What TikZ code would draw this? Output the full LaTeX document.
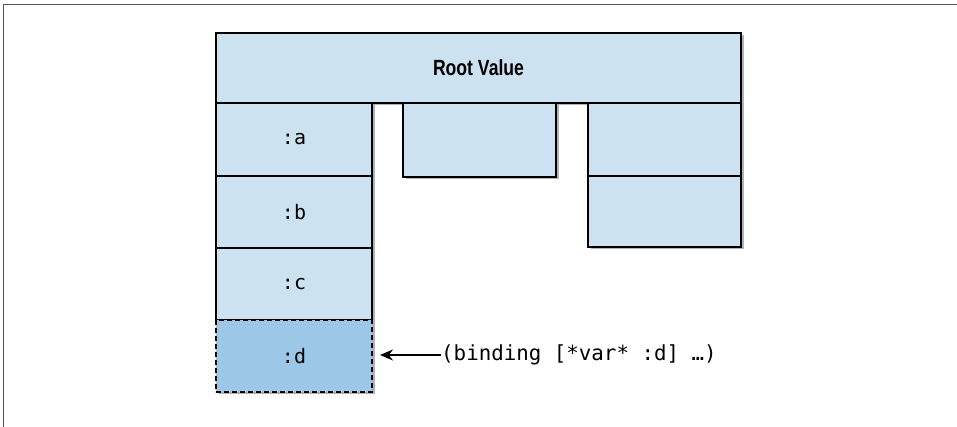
\documentclass[tikz,border=0pt]{standalone}
\usepackage{fontspec}
\newfontfamily\monof{DejaVu Sans Mono}
\newfontfamily\rootf[FakeStretch=0.8]{Liberation Sans}
\usetikzlibrary{shadows,arrows.meta}
\definecolor{cellfill}{HTML}{CCE2F0}
\definecolor{dfill}{HTML}{9DC7E6}
\definecolor{framegray}{HTML}{555555}
\tikzset{
  cell/.style={draw=black, line width=2.5pt, fill=cellfill, rectangle, inner sep=0pt, outer sep=0pt,
    drop shadow={shadow xshift=2.5pt, shadow yshift=-2.5pt, opacity=0.3, fill=black},
    font=\monof\fontsize{20}{24}\selectfont},
  dcell/.style={cell, fill=dfill, dash pattern=on 5pt off 3pt},
  codelbl/.style={font=\monof\fontsize{20.8}{24}\selectfont, inner sep=0pt, anchor=west},
}
\begin{document}
\begin{tikzpicture}[x=1pt,y=1pt]
\useasboundingbox (0,0) rectangle (957,427);
\fill[white] (0,0) rectangle (957,427);
\draw[framegray, line width=1pt] (3.5,0) -- (3.5,422.5) -- (957,422.5);

\node[cell, minimum width=525pt, minimum height=70pt, font=\rootf\bfseries\fontsize{22}{26}\selectfont] (root) at (478.5,359) {Root Value};
\node[cell, minimum width=156pt, minimum height=73pt] (a) at (294,287.5) {:a};
\node[cell, minimum width=156pt, minimum height=72pt] (b) at (294,215) {:b};
\node[cell, minimum width=156pt, minimum height=72pt] (c) at (294,143) {:c};
\node[dcell, minimum width=156pt, minimum height=72pt] (d) at (294,71) {:d};
\node[cell, minimum width=153pt, minimum height=74pt] (m) at (479.5,287) {};
\node[cell, minimum width=153pt, minimum height=73pt] (r1) at (664.5,287.5) {};
\node[cell, minimum width=153pt, minimum height=71pt] (r2) at (664.5,215.5) {};

\node[codelbl] (lbl) at (441,72) {(binding [*var* :d] …)};
\draw[line width=1.8pt, -{Stealth[length=13pt, width=11pt]}] (lbl.west) -- ([xshift=8pt]d.east |- lbl.west);
\end{tikzpicture}
\end{document}
